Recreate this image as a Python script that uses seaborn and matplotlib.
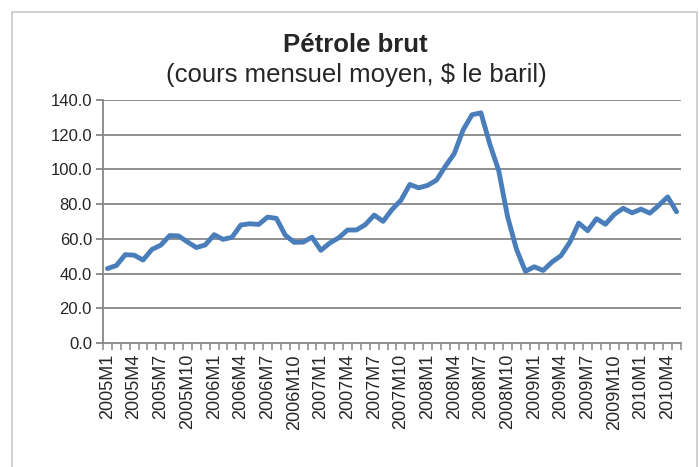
import pandas as pd
import numpy as np
import matplotlib
matplotlib.use("Agg")
import matplotlib.pyplot as plt
import seaborn as sns
from matplotlib.patches import Rectangle
from matplotlib.ticker import FixedLocator, FormatStrFormatter

# Monthly labels 2005M1 .. 2010M5
months = [f"{y}M{m}" for y in range(2005, 2011) for m in range(1, 13)][:65]

# Average crude oil price, $ per barrel
prices = [
    42.9, 44.6, 50.9, 50.6, 47.8, 53.9, 56.4, 61.9, 61.7, 58.2, 55.0, 56.5,  # 2005
    62.4, 59.7, 60.9, 68.0, 68.7, 68.3, 72.5, 71.8, 62.1, 58.0, 58.1, 61.0,  # 2006
    53.4, 57.6, 60.6, 65.1, 65.1, 68.2, 73.7, 70.1, 76.9, 82.2, 91.3, 89.4,  # 2007
    90.8, 93.8, 101.8, 109.1, 122.8, 131.5, 132.6, 114.6, 99.3, 72.7, 54.0, 41.3,  # 2008
    43.9, 41.8, 46.7, 50.3, 58.1, 69.1, 64.7, 71.6, 68.4, 74.1, 77.6, 75.0,  # 2009
    77.1, 74.8, 79.3, 84.2, 75.6,  # 2010
]

df = pd.DataFrame({"mois": months, "prix": prices})
df["idx"] = range(len(df))

sns.set_style("white")
plt.rcParams["font.family"] = ["Liberation Sans", "DejaVu Sans"]

fig = plt.figure(figsize=(6.99, 4.67), dpi=100)
ax = fig.add_axes([103 / 699, 1 - 343 / 467, (681 - 103) / 699, (343 - 100) / 467])

# outer chart border
fig.patches.append(Rectangle((12 / 699, -0.05), (697 - 12) / 699, 1.05 - 12 / 467,
                             transform=fig.transFigure, fill=False,
                             edgecolor="#c8c8c8", linewidth=1.2))

grid_c = "#878787"
for v in range(20, 141, 20):
    ax.axhline(v, color=grid_c, linewidth=1.3, zorder=1)

sns.lineplot(data=df, x="idx", y="prix", ax=ax, color="#4a7ebb", linewidth=3.5, zorder=3)

ax.set_xlim(-0.5, len(df) - 0.5)
ax.set_ylim(0, 140)

# y axis
ax.set_yticks(range(0, 141, 20))
ax.yaxis.set_major_formatter(FormatStrFormatter("%.1f"))
ax.tick_params(axis="y", length=5, width=1.3, color=grid_c, labelsize=12, pad=3,
               left=True, direction="out")

# x axis: labels every 3 months, small ticks between categories
ax.set_xticks(df["idx"][::3])
ax.set_xticklabels(df["mois"][::3], rotation=90)
ax.xaxis.set_minor_locator(FixedLocator(np.arange(-0.5, len(df), 1)))
ax.tick_params(axis="x", which="major", length=0, labelsize=13, pad=8)
ax.tick_params(axis="x", which="minor", length=5, width=1.1, color=grid_c,
               bottom=True, direction="out")

for s in ["top", "right"]:
    ax.spines[s].set_visible(False)
for s in ["left", "bottom"]:
    ax.spines[s].set_color(grid_c)
    ax.spines[s].set_linewidth(1.3)

ax.set_xlabel("")
ax.set_ylabel("")

fig.text(355 / 699, 1 - 45 / 467, "Pétrole brut", ha="center", va="center",
         fontsize=18.5, fontweight="bold")
fig.text(356 / 699, 1 - 75 / 467, "(cours mensuel moyen, $ le baril)", ha="center",
         va="center", fontsize=18.5)

fig.savefig("out.png", dpi=100)
